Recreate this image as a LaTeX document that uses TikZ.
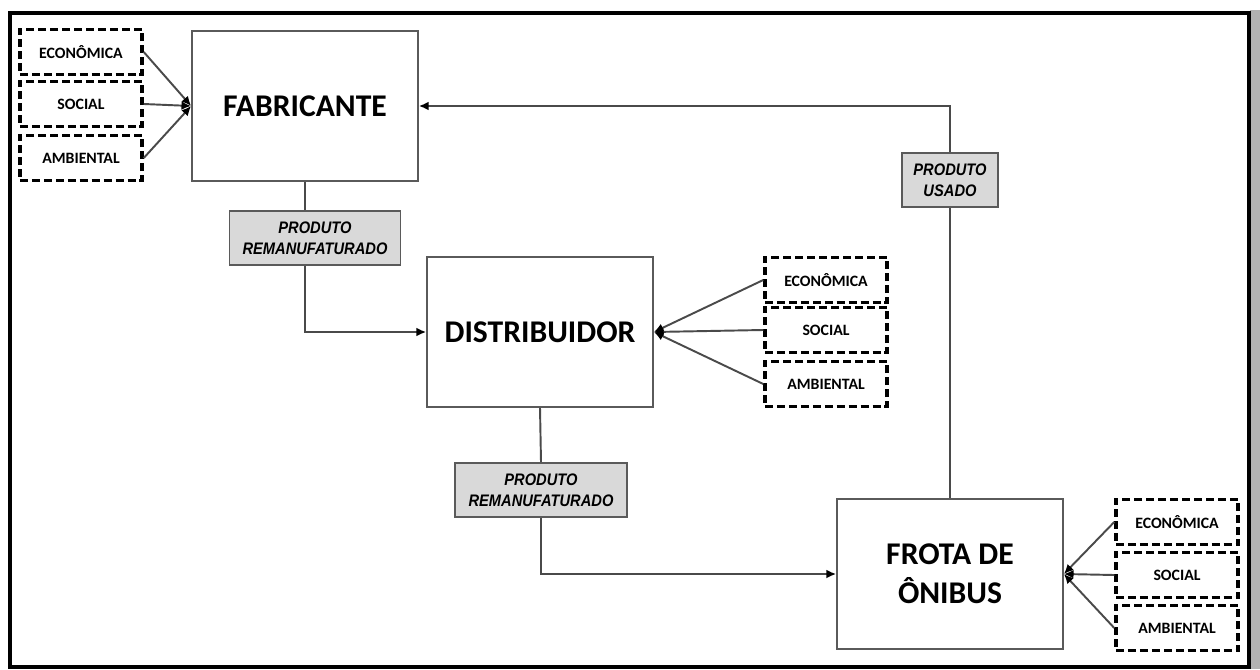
\documentclass[tikz,border=0pt]{standalone}
\usepackage{fontspec}
\setmainfont{Carlito}
\newfontfamily\prodfont[FakeStretch=0.88]{Liberation Sans}
\usetikzlibrary{arrows.meta,positioning}
\definecolor{flowline}{HTML}{4A4A4A}
\definecolor{boxline}{HTML}{5A5A5A}
\definecolor{prodfill}{HTML}{D9D9D9}

\begin{document}
\begin{tikzpicture}[
    x=0.02cm,y=-0.02cm,
    >={Latex[length=5.5pt,width=5pt,color=black]},
    actor/.style={draw=boxline,line width=1pt,fill=white,minimum width=4.52cm,
                  minimum height=3cm,align=center,inner sep=0pt,
                  font=\fontsize{18}{22}\selectfont\bfseries},
    dim/.style={draw=black,line width=2pt,dash pattern=on 4.6pt off 2.2pt,fill=white,
                minimum width=2.44cm,minimum height=0.9cm,inner sep=0pt,
                font=\fontsize{9}{11}\selectfont\bfseries},
    flow/.style={draw=boxline,line width=1pt,fill=prodfill,minimum height=1.08cm,
                 align=center,inner sep=0pt,
                 font=\prodfont\fontsize{9.5}{12}\selectfont\bfseries\itshape},
    link/.style={draw=flowline,line width=1.1pt}
  ]
  \useasboundingbox (0,0) rectangle (1260,669);
  % frame and shadow
  \fill[gray!60] (1250,10) rectangle (1260,669);
  \draw[line width=2pt] (10,13) rectangle (1249,667);

  % actors
  \node[actor] (fab) at (305,106) {FABRICANTE};
  \node[actor] (dist) at (540,332) {DISTRIBUIDOR};
  \node[actor] (frota) at (950,574) {FROTA DE\\ÔNIBUS};

  % dimensions
  \node[dim] (eco1) at (81,52) {ECONÔMICA};
  \node[dim] (soc1) at (81,104) {SOCIAL};
  \node[dim] (amb1) at (81,158) {AMBIENTAL};
  \node[dim] (eco2) at (826,280) {ECONÔMICA};
  \node[dim] (soc2) at (826,330) {SOCIAL};
  \node[dim] (amb2) at (826,384) {AMBIENTAL};
  \node[dim] (eco3) at (1177,522) {ECONÔMICA};
  \node[dim] (soc3) at (1177,575) {SOCIAL};
  \node[dim] (amb3) at (1177,628) {AMBIENTAL};

  % product flows
  \node[flow,minimum width=3.42cm] (rem1) at (315,238) {PRODUTO\\REMANUFATURADO};
  \node[flow,minimum width=3.44cm] (rem2) at (541,490) {PRODUTO\\REMANUFATURADO};
  \node[flow,minimum width=1.92cm] (usado) at (950,180) {PRODUTO\\USADO};

  \draw[link] (fab.south) -- (fab.south |- rem1.north);
  \draw[link,->] (fab.south |- rem1.south) |- (dist.west);
  \draw[link] (dist.south) -- (rem2.north);
  \draw[link,->] (rem2.south) |- (frota.west);
  \draw[link] (frota.north) -- (usado.south);
  \draw[link,->] (usado.north) |- (fab.east);

  \foreach \d in {eco1,soc1,amb1}
    \draw[link,->] (\d.east) -- (fab.west);
  \foreach \d in {eco2,soc2,amb2}
    \draw[link,->] (\d.west) -- (dist.east);
  \foreach \d in {eco3,soc3,amb3}
    \draw[link,->] (\d.west) -- (frota.east);
\end{tikzpicture}
\end{document}
